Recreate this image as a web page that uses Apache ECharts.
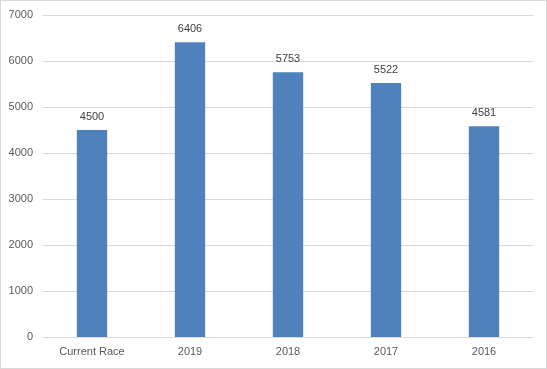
<!DOCTYPE html>
<html><head><meta charset="utf-8">
<script src="https://cdn.jsdelivr.net/npm/echarts@6/dist/echarts.min.js"></script>
<style>html,body{margin:0;padding:0;background:#fff}#c{width:545px;height:367px;border:1px solid #d9d9d9}</style>
</head><body><div id="c"></div>
<script>
const categories = ['Current Race', '2019', '2018', '2017', '2016'];
const values = [4500, 6406, 5753, 5522, 4581];
const chart = echarts.init(document.getElementById('c'));
chart.setOption({
  animation: false,
  grid: {left: 42, right: 13, top: 14, bottom: 31},
  xAxis: {
    type: 'category', data: categories,
    axisLine: {lineStyle: {color: '#d9d9d9'}},
    axisTick: {show: false},
    axisLabel: {color: '#595959', fontSize: 11, fontFamily: 'Liberation Sans', margin: 9}
  },
  yAxis: {
    type: 'value', min: 0, max: 7000, interval: 1000,
    axisLine: {show: false}, axisTick: {show: false},
    splitLine: {lineStyle: {color: '#d9d9d9'}},
    axisLabel: {color: '#595959', fontSize: 11, fontFamily: 'Liberation Sans', margin: 10, formatter: v => String(v)}
  },
  series: [{
    type: 'bar', data: values, barWidth: '31%',
    itemStyle: {color: '#4f81bd'},
    label: {show: true, position: 'top', distance: 8, color: '#404040', fontSize: 11, fontFamily: 'Liberation Sans'}
  }]
});
</script></body></html>
